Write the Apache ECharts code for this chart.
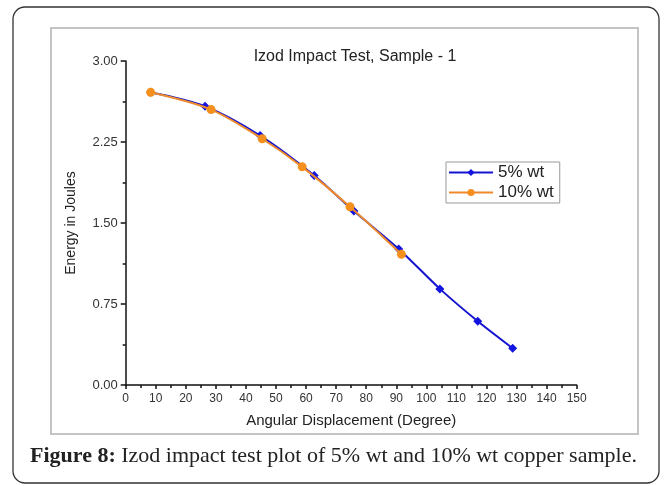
<!DOCTYPE html>
<html>
<head>
<meta charset="utf-8">
<script src="https://cdn.jsdelivr.net/npm/echarts@6/dist/echarts.min.js"></script>
<style>
  html, body { margin: 0; padding: 0; background: #fff; }
  #chart { width: 671px; height: 486px; }
</style>
</head>
<body>
<div id="chart"></div>
<script>
// 5% wt sample: [angle, energy]
const angle5 = [8.2, 26.4, 44.7, 62.7, 75.9, 90.8, 104.5, 117.1, 128.7];
const energy5 = [2.71, 2.58, 2.31, 1.94, 1.61, 1.26, 0.89, 0.59, 0.34];
// 10% wt sample
const angle10 = [8.3, 28.4, 45.4, 58.7, 74.6, 91.7];
const energy10 = [2.71, 2.55, 2.28, 2.02, 1.65, 1.21];

const seriesNames = ["5% wt", "10% wt"];
const xTicks = { min: 0, max: 150, interval: 10 };
const yTicks = { min: 0, max: 3, interval: 0.75 };

const pairs = (xs, ys) => xs.map((x, i) => [x, ys[i]]);

const chart = echarts.init(document.getElementById("chart"));
const option = {
    backgroundColor: "#fff",
    animation: false,
    title: {
        text: "Izod Impact Test, Sample - 1",
        left: 350,
        textAlign: "center",
        top: 44,
        textStyle: { fontFamily: "Liberation Sans", fontSize: 16, fontWeight: "normal", color: "#222" }
    },
    legend: {
        orient: "vertical",
        left: 446,
        top: 162,
        itemWidth: 44,
        itemHeight: 9,
        itemGap: 3,
        padding: [2, 6, 2, 2],
        borderColor: "#999",
        borderWidth: 1,
        textStyle: { fontFamily: "Liberation Sans", fontSize: 17, color: "#222" },
        data: seriesNames
    },
    grid: { left: 125.7, right: 94.3, top: 61, bottom: 101 },
    xAxis: {
        type: "value",
        min: xTicks.min, max: xTicks.max, interval: xTicks.interval,
        name: "Angular Displacement (Degree)",
        nameLocation: "middle",
        nameGap: 28,
        nameTextStyle: { fontFamily: "Liberation Sans", fontSize: 15, color: "#222" },
        axisLine: { lineStyle: { color: "#111", width: 1.5 } },
        axisTick: { length: 4, lineStyle: { color: "#111", width: 1.5 } },
        minorTick: { show: true, splitNumber: 2, length: 3, lineStyle: { color: "#111", width: 1.5 } },
        axisLabel: { fontFamily: "Liberation Sans", fontSize: 12, color: "#333", margin: 8 },
        splitLine: { show: false }
    },
    yAxis: {
        type: "value",
        min: yTicks.min, max: yTicks.max, interval: yTicks.interval,
        name: "Energy in Joules",
        nameLocation: "middle",
        nameGap: 48,
        nameTextStyle: { fontFamily: "Liberation Sans", fontSize: 14, color: "#222" },
        axisLine: { show: true, lineStyle: { color: "#111", width: 1.5 } },
        axisTick: { show: true, length: 5, lineStyle: { color: "#111", width: 1.5 } },
        minorTick: { show: true, splitNumber: 2, length: 3, lineStyle: { color: "#111", width: 1.5 } },
        axisLabel: {
            fontFamily: "Liberation Sans", fontSize: 13, color: "#333", margin: 8,
            formatter: v => v.toFixed(2)
        },
        splitLine: { show: false }
    },
    series: [
        {
            name: seriesNames[0],
            type: "line",
            smooth: 0.3,
            data: pairs(angle5, energy5),
            symbol: "diamond",
            symbolSize: 9,
            itemStyle: { color: "#1414e0" },
            lineStyle: { color: "#1414d0", width: 2 },
            z: 2
        },
        {
            name: seriesNames[1],
            type: "line",
            smooth: 0.3,
            data: pairs(angle10, energy10),
            symbol: "circle",
            symbolSize: 9,
            itemStyle: { color: "#f5901c" },
            lineStyle: { color: "#ee8a2a", width: 2 },
            z: 3
        }
    ],
    graphic: [
        {
            type: "rect",
            shape: { x: 13, y: 7, width: 646, height: 476, r: 12 },
            style: { fill: null, stroke: "#333", lineWidth: 1.3 },
            silent: true
        },
        {
            type: "rect",
            shape: { x: 51, y: 28, width: 587, height: 406 },
            style: { fill: null, stroke: "#c4c4c4", lineWidth: 2 },
            silent: true
        },
        {
            type: "text",
            left: 30,
            top: 445,
            style: {
                text: "{b|Figure 8:} Izod impact test plot of 5% wt and 10% wt copper sample.",
                font: "22px 'Liberation Serif'",
                fill: "#222",
                rich: {
                    b: { fontFamily: "Liberation Serif", fontSize: 22, fontWeight: "bold", fill: "#222" }
                }
            }
        }
    ]
};
chart.setOption(option);
</script>
</body>
</html>
